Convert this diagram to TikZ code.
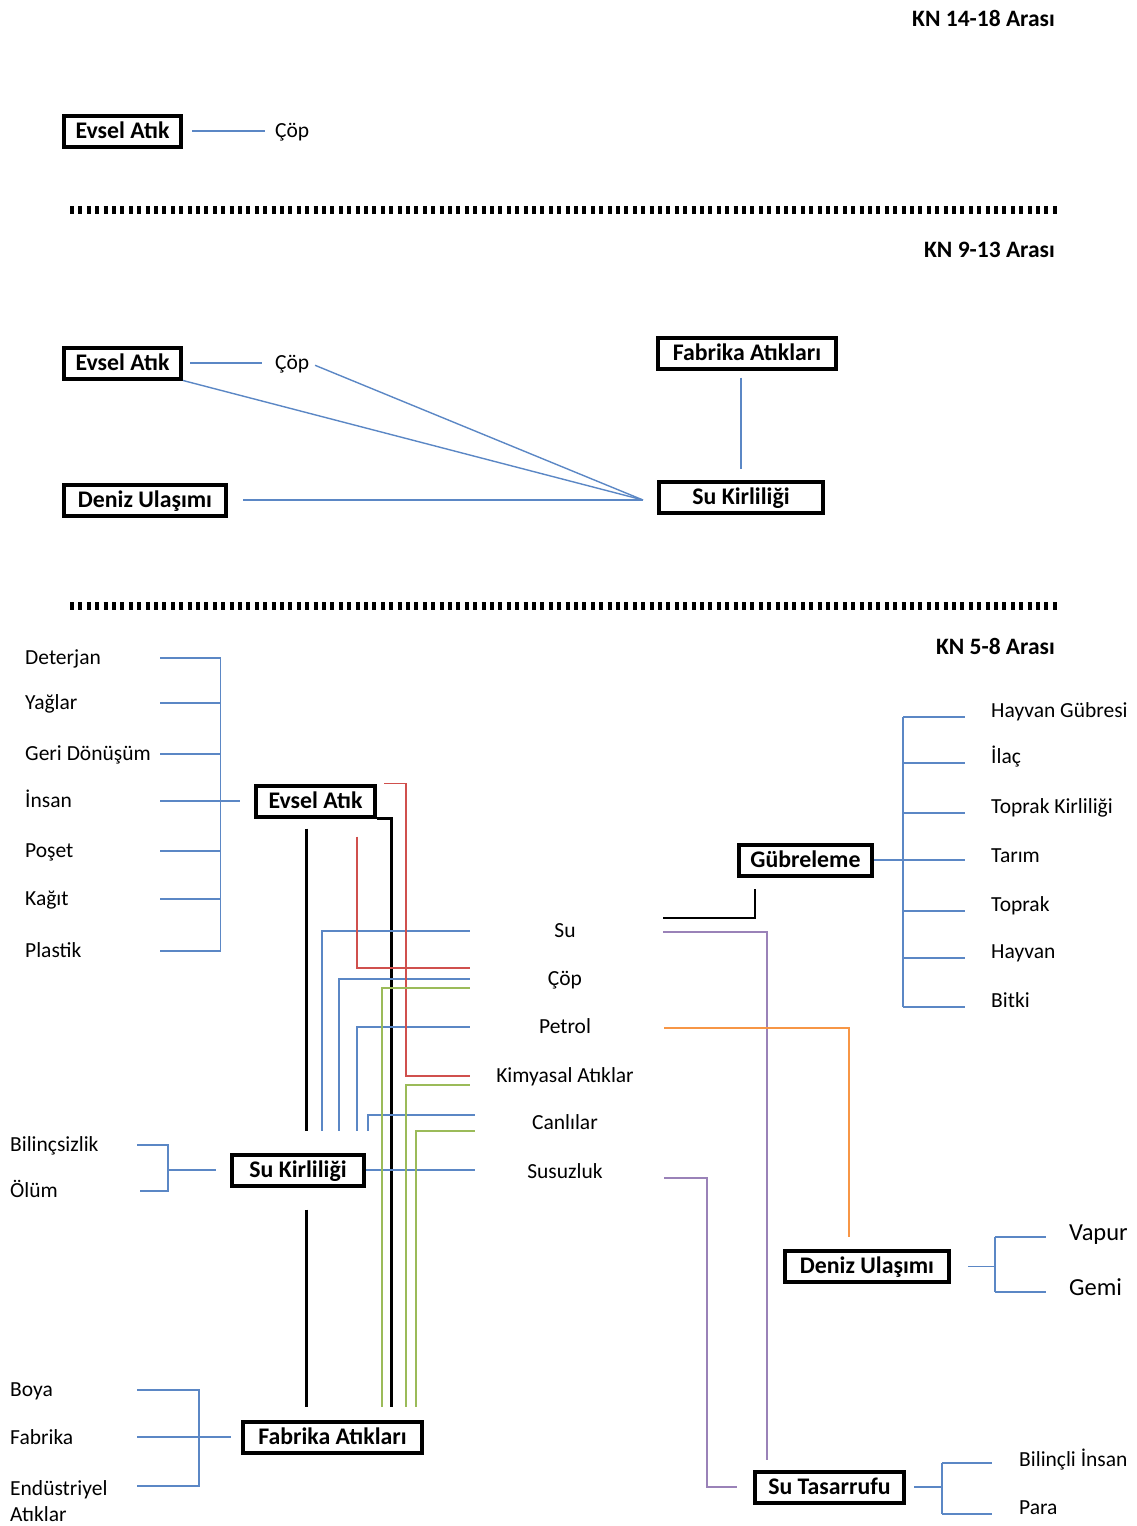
\documentclass[tikz,border=0pt]{standalone}
\usepackage{fontspec}
\setmainfont{Carlito}
\usetikzlibrary{positioning,calc}

\definecolor{hatmavi}{HTML}{5B87C5}
\definecolor{hatkirmizi}{HTML}{D0504D}
\definecolor{hatyesil}{HTML}{9BBB59}
\definecolor{hatmor}{HTML}{9A82B8}
\definecolor{hatturuncu}{HTML}{F79646}

\tikzset{
  kutu/.style={draw, line width=4pt, font=\fontsize{23.8}{28}\selectfont\bfseries, inner xsep=6pt, inner ysep=0pt, minimum height=31pt, text height=17pt, text depth=3pt},
  etiket/.style={font=\fontsize{21.5}{26}\selectfont, inner sep=0pt, text height=16.5pt, text depth=3.5pt},
  buyuk/.style={font=\fontsize{24.5}{29}\selectfont, text height=18pt, text depth=3pt},
  baslik/.style={font=\fontsize{23.5}{28}\selectfont\bfseries, inner sep=0pt, anchor=east, text height=17pt, text depth=3pt},
  mavi/.style={draw=hatmavi, line width=1.4pt},
  kirmizi/.style={draw=hatkirmizi, line width=1.4pt},
  yesil/.style={draw=hatyesil, line width=1.4pt},
  mor/.style={draw=hatmor, line width=1.4pt},
  turuncu/.style={draw=hatturuncu, line width=1.4pt},
  kalin/.style={draw=black, line width=3pt},
  ince/.style={draw=black, line width=1.8pt},
  ayirac/.style={line width=8pt, dash pattern=on 4pt off 4.4pt}
}

\begin{document}
\begin{tikzpicture}[x=1pt,y=-1pt]
    \useasboundingbox (0,0) rectangle (1137,1526);

    % KN 14-18
    \node[baslik] (kn1) at (1055,19) {KN 14-18 Arası};
    \node[kutu, minimum width=117pt] (ev1) at (122.5,131) {Evsel Atık};
    \node[etiket, anchor=west] (cop1) at (275,131) {Çöp};
    \draw[mavi, shorten <=9pt, shorten >=10pt] (ev1.east) -- (cop1.west);

    \draw[ayirac] (70,210) -- (1060,210);

    % KN 9-13
    \node[baslik] (kn2) at (1055,250) {KN 9-13 Arası};
    \node[kutu, minimum width=117pt] (ev2) at (122.5,363) {Evsel Atık};
    \node[etiket, anchor=west] (cop2) at (275,363) {Çöp};
    \node[kutu, minimum width=178pt] (fab2) at (747,353) {Fabrika Atıkları};
    \node[kutu, minimum width=164pt] (suk2) at (741,497.5) {Su Kirliliği};
    \node[kutu, minimum width=162pt] (den2) at (145,500) {Deniz Ulaşımı};
    \coordinate (suk2g) at ($(suk2.west |- den2.east)+(-14,0)$);
    \draw[mavi, shorten <=7pt, shorten >=13pt] (ev2.east) -- (cop2.west);
    \draw[mavi, shorten <=6pt] (cop2.east) -- (suk2g);
    \draw[mavi] (ev2.south east) -- (suk2g);
    \draw[mavi, shorten <=15pt] (den2.east) -- (suk2g);
    \draw[mavi, shorten <=7pt, shorten >=11pt] (suk2.north |- fab2.south) -- (suk2.north);

    \draw[ayirac] (70,606) -- (1060,606);

    % KN 5-8
    \node[baslik] (kn3) at (1055,647) {KN 5-8 Arası};

    % ana kutular
    \node[kutu, minimum width=119pt] (ev3) at (315.5,801) {Evsel Atık};
    \node[kutu, minimum width=132pt] (suk3) at (298,1170) {Su Kirliliği};
    \node[kutu, minimum width=179pt] (fab3) at (332.5,1437) {Fabrika Atıkları};
    \node[kutu, minimum width=133pt] (gub) at (805.5,860) {Gübreleme};
    \node[kutu, minimum width=164pt] (den3) at (867,1266.5) {Deniz Ulaşımı};
    \node[kutu, minimum width=149pt] (sut) at (829.5,1487) {Su Tasarrufu};

    % sol liste
    \node[etiket, anchor=west] (det) at (25,658) {Deterjan};
    \node[etiket, anchor=west] (yag) at (25,703) {Yağlar};
    \node[etiket, anchor=west] (ger) at (25,754) {Geri Dönüşüm};
    \node[etiket, anchor=west] (ins) at (25,801) {İnsan};
    \node[etiket, anchor=west] (pos) at (25,851) {Poşet};
    \node[etiket, anchor=west] (kag) at (25,899) {Kağıt};
    \node[etiket, anchor=west] (pla) at (25,951) {Plastik};
    \coordinate (sa) at (160,0);
    \coordinate (sb) at (220.5,0);
    \foreach \e in {det,yag,ger,pos,kag,pla}
        \draw[mavi] (\e -| sa) -- (\e -| sb);
    \draw[mavi] (det -| sb) -- (pla -| sb);
    \draw[mavi, shorten >=14pt] (ins -| sa) -- (ev3.west);

    % orta liste
    \node[etiket, minimum width=190pt] (su) at (565,931) {Su};
    \node[etiket, minimum width=190pt] (copm) at (565,979) {Çöp};
    \node[etiket, minimum width=190pt] (pet) at (565,1027) {Petrol};
    \node[etiket, minimum width=190pt] (kim) at (565,1076) {Kimyasal Atıklar};
    \node[etiket, minimum width=190pt] (can) at (565,1123) {Canlılar};
    \node[etiket, minimum width=190pt] (sus) at (565,1172) {Susuzluk};

    \coordinate (k1) at (306,0);
    \coordinate (b1) at (322,0);
    \coordinate (b2) at (339,0);
    \coordinate (b3) at (357,0);
    \coordinate (b4) at (368,0);
    \coordinate (g1) at (382,0);
    \coordinate (k2) at (391,0);
    \coordinate (r1) at (406,0);
    \coordinate (g3) at (416,0);

    % Evsel Atik - Su Kirliligi - Fabrika Atiklari
    \draw[kalin, shorten <=10pt, shorten >=22pt] (ev3.south -| k1) -- (suk3.north -| k1);
    \draw[kalin, shorten <=22pt, shorten >=13pt] (suk3.south -| k1) -- (fab3.north -| k1);
    \draw[kalin, shorten >=13pt] (ev3.south east) -| (fab3.north -| k2);

    % Su Kirliligi
    \draw[mavi, shorten <=22pt] (suk3.north -| b1) |- (su.west);
    \draw[mavi, shorten <=22pt] (suk3.north -| b2) |- (copm.west);
    \draw[mavi, shorten <=22pt] (suk3.north -| b3) |- (pet.west);
    \draw[mavi, shorten <=22pt] (suk3.north -| b4) |- ($(can.west)+(5,-8)$);
    \draw[mavi] (suk3.east) -- ($(suk3.east -| sus.west)+(5,0)$);

    % Evsel Atik
    \draw[kirmizi, shorten <=7pt] (ev3.north east) -| (kim -| r1) -- (kim.west);
    \draw[kirmizi, shorten <=18pt] (ev3.south -| b3) |- ($(copm.west)+(0,-11)$);

    % Fabrika Atiklari
    \draw[yesil, shorten <=13pt] (fab3.north -| g1) |- ($(copm.west)+(0,9)$);
    \draw[yesil, shorten <=13pt] (fab3.north -| r1) |- ($(kim.west)+(0,9)$);
    \draw[yesil, shorten <=13pt] (fab3.north -| g3) |- ($(can.west)+(5,8)$);

    % sag taraf
    \draw[ince, shorten >=11pt] ($(su.east)+(3,-13)$) -| ($(gub.south)+(-50.5,0)$);
    \draw[mor, shorten >=10pt] ($(su.east)+(3,1)$) -| ($(sut.north)+(-62.5,0)$);
    \draw[mor, shorten >=16pt] ($(sus.east)+(4,6)$) -| ($(sut.west)+(-46,0)$) -- (sut.west);
    \draw[turuncu, shorten >=12pt] ($(pet.east)+(4,1)$) -| ($(den3.north)+(-18,0)$);

    % Gubreleme listesi
    \node[etiket, anchor=west] (hay) at (991,711) {Hayvan Gübresi};
    \node[etiket, anchor=west] (ila) at (991,757) {İlaç};
    \node[etiket, anchor=west] (tkr) at (991,807) {Toprak Kirliliği};
    \node[etiket, anchor=west] (tar) at (991,856) {Tarım};
    \node[etiket, anchor=west] (tpk) at (991,905) {Toprak};
    \node[etiket, anchor=west] (hyv) at (991,952) {Hayvan};
    \node[etiket, anchor=west] (bit) at (991,1001) {Bitki};
    \coordinate (gx) at (903,0);
    \foreach \e in {hay,ila,tkr,tpk,hyv,bit}
        \draw[mavi] ($(\e -| gx)+(0,6)$) -- ($(\e.west)+(-26,6)$);
    \draw[mavi] ($(hay -| gx)+(0,6)$) -- ($(bit -| gx)+(0,6)$);
    \draw[mavi, shorten >=26pt] (gub.east) -- (gub.east -| tar.west);

    % Deniz Ulasimi listesi
    \node[etiket, buyuk, anchor=west] (vap) at (1069,1233) {Vapur};
    \node[etiket, buyuk, anchor=west] (gem) at (1069,1288) {Gemi};
    \coordinate (dx) at (995,0);
    \draw[mavi, shorten <=17pt] (den3.east) -- (den3.east -| dx);
    \draw[mavi] ($(vap -| dx)+(0,4)$) -- ($(gem -| dx)+(0,4)$);
    \foreach \e in {vap,gem}
        \draw[mavi] ($(\e -| dx)+(0,4)$) -- ($(\e.west)+(-23,4)$);

    % Su Tasarrufu listesi
    \node[etiket, anchor=west] (bil) at (1019,1460) {Bilinçli İnsan};
    \node[etiket, anchor=west] (par) at (1019,1508) {Para};
    \coordinate (tx) at (942,0);
    \draw[mavi, shorten <=8pt] (sut.east) -- (sut.east -| tx);
    \draw[mavi] ($(bil -| tx)+(0,3)$) -- ($(par -| tx)+(0,6)$);
    \draw[mavi] ($(bil -| tx)+(0,3)$) -- ($(bil.west)+(-27,3)$);
    \draw[mavi] ($(par -| tx)+(0,6)$) -- ($(par.west)+(-27,6)$);

    % Su Kirliligi listesi
    \node[etiket, anchor=west] (bsz) at (10,1145) {Bilinçsizlik};
    \node[etiket, anchor=west] (olu) at (10,1191) {Ölüm};
    \coordinate (la) at (137,0);
    \coordinate (lb) at (168,0);
    \draw[mavi] (bsz -| la) -- (bsz -| lb) -- (olu -| lb) -- ($(olu -| la)+(3,0)$);
    \draw[mavi, shorten >=14pt] (suk3.west -| lb) -- (suk3.west);

    % Fabrika Atiklari listesi
    \node[etiket, anchor=west] (boy) at (10,1390) {Boya};
    \node[etiket, anchor=west] (fbr) at (10,1438) {Fabrika};
    \node[etiket, anchor=north west, align=left, text height={}, text depth={}] (endu) at (10,1480) {Endüstriyel\\Atıklar};
    \coordinate (lc) at (137,0);
    \coordinate (ld) at (199,0);
    \draw[mavi] (boy -| lc) -- (boy -| ld) -- ($(endu.north -| ld)+(0,6)$) -- ($(endu.north -| lc)+(0,6)$);
    \draw[mavi, shorten >=10pt] (fab3.west -| lc) -- (fab3.west);
\end{tikzpicture}
\end{document}
